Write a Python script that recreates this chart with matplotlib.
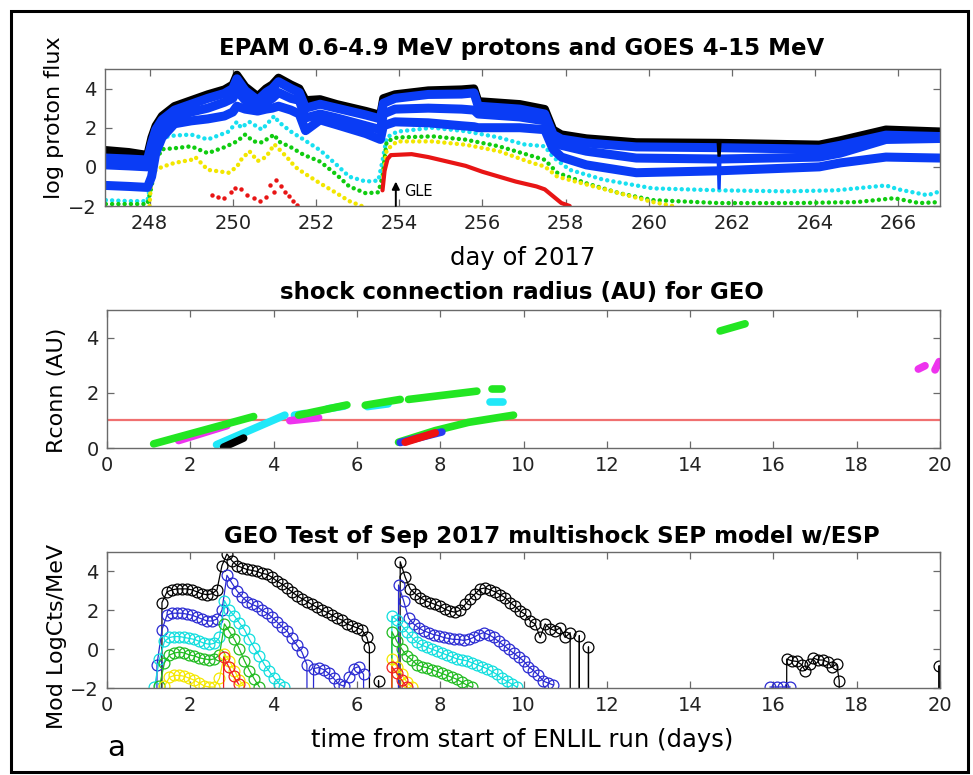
import numpy as np
import matplotlib
matplotlib.use("Agg")
import matplotlib.pyplot as plt
from matplotlib.patches import Rectangle

plt.rcParams['font.family'] = ['DejaVu Sans']

# ---------------- top panel: EPAM / GOES proton flux (log) ----------------
ep_days = [246.95, 247.5, 247.95, 248.05, 248.15, 248.3, 248.6, 249.0, 249.4, 249.8,
           250.0, 250.1, 250.3, 250.6, 250.8, 250.95, 251.1, 251.4, 251.6, 251.75,
           252.1, 252.5, 253.2, 253.55, 253.62, 253.9, 254.7, 255.5, 255.8, 255.9,
           256.9, 257.5, 257.7, 257.9, 258.5, 259.7, 261.7, 264.1, 264.6, 265.7, 267.0]
ep_black = [0.85, 0.75, 0.6, 1.5, 2.1, 2.6, 3.1, 3.4, 3.7, 3.95,
            4.2, 4.7, 4.1, 3.6, 4.0, 4.2, 4.55, 4.2, 4.0, 3.4,
            3.45, 3.2, 2.85, 2.65, 3.5, 3.7, 3.9, 3.95, 4.0, 3.35,
            3.2, 2.95, 1.9, 1.65, 1.45, 1.25, 1.22, 1.13, 1.35, 1.9, 1.8]
ep_blue1 = [0.45, 0.4, 0.35, 1.2, 1.9, 2.4, 2.9, 3.2, 3.5, 3.75,
            4.0, 4.5, 3.9, 3.4, 3.8, 4.0, 4.35, 4.0, 3.8, 3.0,
            3.2, 3.0, 2.65, 2.45, 3.25, 3.5, 3.7, 3.72, 3.78, 3.1,
            2.95, 2.7, 1.65, 1.42, 1.22, 1.02, 0.98, 0.9, 1.1, 1.62, 1.55]
ep_blue2 = [0.1, 0.05, 0.0, 0.8, 1.5, 2.0, 2.5, 2.8, 3.0, 3.3,
            3.5, 3.9, 3.4, 3.0, 3.3, 3.5, 3.8, 3.5, 3.4, 2.5,
            2.7, 2.5, 2.1, 1.9, 2.7, 2.95, 3.0, 2.95, 2.9, 2.7,
            2.55, 2.35, 1.3, 1.1, 0.8, 0.45, 0.4, 0.5, 0.7, 1.4, 1.45]
ep_blue3 = [-0.95, -1.0, -1.05, -0.5, 0.7, 1.5, 2.2, 2.35, 2.45, 2.6,
            2.8, 3.1, 2.95, 2.85, 2.95, 3.0, 3.1, 2.9, 2.7, 1.85,
            2.4, 2.15, 1.7, 1.4, 2.1, 2.3, 2.25, 2.1, 2.05, 2.0,
            2.0, 1.9, 0.9, 0.5, 0.1, -0.3, -0.2, 0.0, 0.2, 0.5, 0.45]

# data dropout near day 261.7
gap_days = [261.66, 261.68, 261.70, 261.72]
gap_black = [1.22, 0.55, 0.55, 1.22]
gap_blue = [0.45, -1.1, -1.1, 0.45]

cy_days = [246.95, 247.5, 247.95, 248.05, 248.15, 248.3, 248.6, 249.0, 249.4, 249.9,
           250.1, 250.2, 250.4, 250.7, 251.0, 251.1, 251.4, 251.7, 252.1, 252.5,
           252.8, 253.2, 253.5, 253.6, 253.7, 253.95, 254.8, 255.6, 256.4, 257.0,
           257.5, 257.7, 258.1, 258.9, 260.1, 261.7, 263.3, 264.5, 265.7, 266.0,
           266.7, 267.0]
cy_vals = [-1.7, -1.75, -1.75, -0.5, 0.8, 1.5, 1.6, 1.65, 1.4, 1.8,
           2.3, 2.0, 2.3, 1.9, 2.6, 2.3, 1.8, 1.4, 0.85, 0.1,
           -0.5, -0.75, -0.7, 0.3, 1.5, 1.8, 2.0, 1.82, 1.5, 1.15,
           1.05, 0.5, -0.15, -0.65, -1.1, -1.2, -1.25, -1.2, -0.95, -1.15,
           -1.45, -1.25]

gr_days = [246.95, 247.5, 247.95, 248.05, 248.15, 248.3, 248.6, 249.0, 249.4, 249.8,
           250.1, 250.3, 250.5, 250.7, 251.0, 251.1, 251.4, 251.7, 252.1, 252.5,
           252.8, 253.2, 253.5, 253.6, 253.7, 253.95, 254.8, 255.6, 256.4, 257.2,
           257.5, 257.8, 258.5, 259.3, 260.1, 261.7, 263.5, 265.0, 265.9, 266.5, 267.0]
gr_vals = [-1.9, -1.9, -1.9, -1.0, 0.3, 0.9, 0.95, 1.05, 0.7, 1.0,
           1.3, 1.65, 1.3, 1.25, 1.65, 1.3, 1.0, 0.62, 0.27, -0.41,
           -1.0, -1.35, -1.3, -0.5, 1.3, 1.5, 1.56, 1.39, 1.05, 0.55,
           0.36, -0.3, -0.84, -1.35, -1.7, -1.85, -1.85, -1.8, -1.6, -1.85, -1.8]

ye_days = [248.0, 248.05, 248.3, 248.6, 249.0, 249.1, 249.4, 249.9, 250.1, 250.2,
           250.4, 250.6, 250.8, 251.0, 251.3, 251.5, 251.7, 252.1, 252.5, 252.8,
           253.1, 253.4, 253.62, 253.7, 253.95, 254.8, 255.6, 256.4, 257.2, 257.5,
           257.8, 258.5, 259.3, 260.1, 260.7]
ye_vals = [-2.0, -0.3, 0.0, 0.2, 0.36, 0.5, -0.15, -0.3, 0.0, 0.36,
           0.8, 0.3, 0.5, 1.15, 0.5, 0.0, -0.3, -0.84, -1.35, -1.75,
           -2.0, np.nan, -0.5, 0.87, 1.3, 1.3, 1.13, 0.8, 0.2, 0.02,
           -0.5, -0.9, -1.35, -1.8, -2.05]

re_pre_days = [249.5, 249.65, 249.8, 249.95, 250.05, 250.2, 250.35, 250.5, 250.65,
               250.8, 250.9, 251.0, 251.05, 251.15, 251.25, 251.35, 251.45, 251.55]
re_pre_vals = [-1.45, -1.55, -1.6, -1.3, -1.1, -1.15, -1.45, -1.6, -1.75,
               -1.55, -0.95, -1.3, -0.65, -1.0, -1.3, -1.5, -1.75, -1.95]
re_post_days = [253.6, 253.65, 253.72, 253.8, 254.3, 254.7, 255.1, 255.6, 256.0,
                256.4, 256.8, 257.3, 257.5, 257.7, 257.9, 258.1]
re_post_vals = [-1.2, -0.2, 0.4, 0.6, 0.65, 0.5, 0.3, 0.05, -0.25,
                -0.5, -0.75, -1.0, -1.15, -1.5, -1.85, -2.0]

gle_day = 253.92

# ---------------- middle panel: shock connection radius ----------------
rc_green = [([1.12, 3.52], [0.15, 1.14]),
            ([4.6, 5.76], [1.19, 1.56]),
            ([6.2, 7.04], [1.55, 1.76]),
            ([7.24, 8.88], [1.76, 2.06]),
            ([9.24, 9.48], [2.12, 2.12]),
            ([7.0, 7.88, 8.68, 9.76], [0.21, 0.63, 0.93, 1.19]),
            ([14.72, 15.32], [4.24, 4.5])]
rc_magenta = [([1.72, 2.88], [0.27, 0.81]),
              ([4.39, 5.08], [0.99, 1.1]),
              ([19.48, 19.64], [2.86, 2.98]),
              ([19.88, 19.98], [2.83, 3.13])]
rc_cyan = [([2.63, 4.27], [0.12, 1.19]),
           ([4.5, 4.75], [1.19, 1.25]),
           ([5.3, 5.7], [1.42, 1.52]),
           ([6.25, 6.75], [1.5, 1.6]),
           ([9.2, 9.5], [1.66, 1.66])]
rc_black = [([2.8, 3.28], [0.03, 0.36])]
rc_blue = [([7.04, 8.04], [0.2, 0.58])]
rc_red = [([7.16, 7.88], [0.21, 0.55])]
r_ref = 1.0

# ---------------- bottom panel: model log counts ----------------
OFF = -60.0   # below the plotted range


def track(t0, vals, dt=0.12):
    return list(t0 + dt * np.arange(len(vals))), list(vals)


blk1 = [2.4, 2.95, 3.05, 3.1, 3.1, 3.1, 3.05, 2.95, 2.85, 2.8, 2.85, 3.05, 4.3, 4.9,
        4.55, 4.3, 4.2, 4.1, 4.05, 4.0, 3.9, 3.85, 3.7, 3.5, 3.35, 3.15, 2.95, 2.75,
        2.6, 2.45, 2.3, 2.15, 2.0, 1.9, 1.75, 1.6, 1.5, 1.3, 1.2, 1.1, 1.0, 0.6]
blk2 = [4.5, 3.7, 3.1, 2.85, 2.65, 2.5, 2.4, 2.3, 2.2, 2.05, 1.95, 1.9, 2.0, 2.3,
        2.6, 2.85, 3.1, 3.15, 3.05, 2.95, 2.8, 2.65, 2.4, 2.2, 1.95, 1.8, 1.45, 1.3,
        0.6, 1.3, 1.05, 0.95, 1.1, 0.6, 0.85]
blk3_t = [16.28, 16.32, 16.44, 16.56, 16.68, 16.76, 16.88, 16.96, 17.08, 17.2,
          17.32, 17.4, 17.52, 17.58, 17.62]
blk3_v = [OFF, -0.51, -0.6, -0.63, -0.8, -1.1, -0.77, -0.46, -0.56, -0.56,
          -0.68, -0.94, -0.77, -1.62, OFF]

blu1 = [-0.8, 1.0, 1.75, 1.85, 1.85, 1.85, 1.8, 1.75, 1.65, 1.55, 1.45, 1.45, 1.55,
        2.0, 3.8, 3.4, 3.0, 2.7, 2.45, 2.3, 2.2, 2.0, 1.85, 1.65, 1.4, 1.15, 0.95,
        0.55, 0.2, -0.15, -0.8]
blu1b = [-1.0, -0.95, -1.05, -1.25, -1.5, -1.8, -1.9, -1.45, -1.0, -0.9, -1.3]
blu2 = [3.3, 2.5, 1.6, 1.3, 1.1, 0.95, 0.85, 0.75, 0.7, 0.6, 0.55, 0.5, 0.5, 0.45,
        0.5, 0.6, 0.75, 0.85, 0.75, 0.6, 0.4, 0.2, 0.0, -0.2, -0.4, -0.6, -0.9,
        -1.1, -1.35, -1.65, -1.75, -1.85]
blu3_t = [15.92, 16.08, 16.24, 16.4]
blu3_v = [-1.95, -1.95, -1.95, -1.95]

cya1 = [-1.95, -0.5, 0.4, 0.6, 0.65, 0.65, 0.6, 0.55, 0.5, 0.4, 0.3, 0.25, 0.3, 0.6,
        2.5, 2.0, 1.7, 1.35, 1.0, 0.5, 0.05, -0.35, -0.8, -1.15, -1.5, -1.8, -1.95]
cya2 = [1.7, 1.5, 1.2, 0.9, 0.6, 0.35, 0.2, 0.1, 0.0, -0.1, -0.2, -0.3, -0.4, -0.5,
        -0.55, -0.6, -0.7, -0.8, -0.9, -1.0, -1.15, -1.3, -1.5, -1.65, -1.8, -1.95]

grn1 = [-1.9, -0.7, -0.3, -0.2, -0.15, -0.2, -0.3, -0.35, -0.45, -0.5, -0.55, -0.5,
        -0.3, 1.3, 0.9, 0.5, 0.0, -0.6, -1.1, -1.55, -1.95]
grn2 = [0.9, 0.4, 0.0, -0.35, -0.55, -0.8, -0.9, -0.95, -1.05, -1.15, -1.25, -1.35,
        -1.45, -1.55, -1.7, -1.85, -1.95]

yel1 = [-1.9, -1.45, -1.35, -1.35, -1.4, -1.5, -1.6, -1.75, -1.9, -1.95, -1.95,
        -1.5, -0.25, -0.6, -1.1, -1.6, -1.95]
yel2 = [-0.5, -0.9, -1.3, -1.7, -1.95]

red1 = [-0.4, -0.9, -1.4, -1.8]
red2 = [-0.9, -1.25, -1.6, -1.95]


def join(*parts):
    t, v = [], []
    for i, (pt, pv) in enumerate(parts):
        if i:
            t.append(np.nan)
            v.append(np.nan)
        t += list(pt)
        v += list(pv)
    return np.array(t, float), np.array(v, float)


b1t, b1v = track(1.32, blk1)
b2t, b2v = track(7.04, blk2)
mod_black = join(
    ([1.28] + b1t + [6.30, 6.33, 6.52, 6.55], [OFF] + b1v + [0.1, OFF, -1.62, OFF]),
    ([6.98] + b2t + [11.16, 11.30, 11.34, 11.38, 11.52, 11.56, 11.60],
     [OFF] + b2v + [OFF, OFF, 0.7, OFF, OFF, 0.12, OFF]),
    (blk3_t, blk3_v),
    ([19.96, 19.98, 20.02], [OFF, -0.85, OFF]))

u1t, u1v = track(1.2, blu1)
u1bt, u1bv = track(4.96, blu1b)
u2t, u2v = track(7.0, blu2)
mod_blue = join(
    ([1.17] + u1t + [4.86] + u1bt + [6.2], [OFF] + u1v + [OFF] + u1bv + [OFF]),
    ([6.97] + u2t, [OFF] + u2v),
    (blu3_t, blu3_v))

c1t, c1v = track(1.14, cya1)
c2t, c2v = track(6.84, cya2)
mod_cyan = join((c1t, c1v), ([6.80] + c2t, [OFF] + c2v))

g1t, g1v = track(1.26, grn1)
g2t, g2v = track(6.84, grn2)
mod_green = join(([1.22] + g1t, [OFF] + g1v), ([6.80] + g2t, [OFF] + g2v))

y1t, y1v = track(1.38, yel1)
y2t, y2v = track(6.84, yel2)
mod_yellow = join(([1.34] + y1t, [OFF] + y1v), ([6.80] + y2t, [OFF] + y2v))

r1t, r1v = track(2.80, red1)
r2t, r2v = track(6.84, red2)
mod_red = join(([2.76] + r1t, [OFF] + r1v), ([6.80] + r2t, [OFF] + r2v))

# ---------------- figure ----------------
W, H = 973, 775
fig = plt.figure(figsize=(W / 100, H / 100), dpi=100)


def px_axes(x0, y0, x1, y1):
    return fig.add_axes([x0 / W, 1 - y1 / H, (x1 - x0) / W, (y1 - y0) / H])


def ftext(x, y, s, **kw):
    fig.text(x / W, 1 - y / H, s, **kw)


SPINE = '#6a6a6a'
TICKFS = 14


def style(ax):
    for sp in ax.spines.values():
        sp.set_color(SPINE)
        sp.set_linewidth(1.0)
    ax.tick_params(direction='in', top=True, right=True, length=5, width=0.9,
                   color=SPINE, labelsize=TICKFS, labelcolor='#222222', pad=6)


ax1 = px_axes(105, 69, 940, 206)
ax2 = px_axes(107, 310, 940, 448)
ax3 = px_axes(107, 552, 940, 688)

# top panel
BLUE = '#0a3cf5'
dots = dict(linestyle=(0, (0.01, 1.4)), dash_capstyle='round', lw=3.2)
ax1.plot(cy_days, cy_vals, color='#18e0f0', **dots)
ax1.plot(gr_days, gr_vals, color='#10cc10', **dots)
ax1.plot(ye_days, ye_vals, color='#f2e600', **dots)
ax1.plot(re_pre_days, re_pre_vals, 'o', color='#e81515', ms=3.2, mew=0)
ax1.plot(re_post_days, re_post_vals, color='#e81515', lw=3, solid_capstyle='round')
ax1.plot(ep_days, ep_black, color='black', lw=6, solid_joinstyle='round')
for vals in (ep_blue1, ep_blue2, ep_blue3):
    ax1.plot(ep_days, vals, color=BLUE, lw=6.5, solid_joinstyle='round')
ax1.plot(gap_days, gap_black, color='black', lw=1.8)
ax1.plot(gap_days, gap_blue, color=BLUE, lw=1.8)
ax1.annotate('', xy=(gle_day, -0.75), xytext=(gle_day, -2.0),
             arrowprops=dict(arrowstyle='-|>', color='black', lw=1.4,
                             mutation_scale=11, shrinkA=0, shrinkB=0))
ax1.text(gle_day + 0.2, -1.28, 'GLE', fontsize=10.5, va='center', ha='left')
ax1.set_xlim(246.93, 267.0)
ax1.set_ylim(-2, 5)
ax1.set_xticks(np.arange(248, 267, 2))
ax1.set_yticks([-2, 0, 2, 4])
style(ax1)

# middle panel
seg_kw = dict(lw=5.5, solid_capstyle='round')
ax2.axhline(r_ref, color='#f07070', lw=1.6, zorder=1)
for segs, col in ((rc_cyan, '#20e8f8'), (rc_magenta, '#ee33ee'),
                  (rc_green, '#22e622'), (rc_black, 'black'),
                  (rc_blue, '#2a3cf0'), (rc_red, '#ee1111')):
    for xs, ys in segs:
        ax2.plot(xs, ys, color=col, **seg_kw)
ax2.set_xlim(0, 20)
ax2.set_ylim(0, 5)
ax2.set_xticks(np.arange(0, 21, 2))
ax2.set_yticks([0, 2, 4])
style(ax2)

# bottom panel
mk = dict(marker='o', mfc='none', ms=7.8, mew=0.9, lw=0.9)
for (tt, vv), col in ((mod_black, 'black'), (mod_blue, '#2a2ad2'),
                      (mod_cyan, '#10dede'), (mod_green, '#20bb20'),
                      (mod_yellow, '#f5e800'), (mod_red, '#f02020')):
    ax3.plot(tt, vv, color=col, **mk)
ax3.set_xlim(0, 20)
ax3.set_ylim(-2, 5)
ax3.set_xticks(np.arange(0, 21, 2))
ax3.set_yticks([-2, 0, 2, 4])
style(ax3)

# titles and labels
TFS = 16.5
ftext(522, 48, 'EPAM 0.6-4.9 MeV protons and GOES 4-15 MeV', fontsize=TFS,
      fontweight='bold', ha='center', va='center')
ftext(522, 293, 'shock connection radius (AU) for GEO', fontsize=TFS,
      fontweight='bold', ha='center', va='center')
ftext(552, 537, 'GEO Test of Sep 2017 multishock SEP model w/ESP', fontsize=TFS,
      fontweight='bold', ha='center', va='center')

XLFS = 17.5
YLFS = 16
ftext(523, 258, 'day of 2017', fontsize=XLFS, ha='center', va='center')
ftext(522, 740, 'time from start of ENLIL run (days)', fontsize=XLFS,
      ha='center', va='center')
ftext(54, 118, 'log proton flux', fontsize=YLFS, rotation=90, ha='center', va='center')
ftext(57, 390, 'Rconn (AU)', fontsize=YLFS, rotation=90, ha='center', va='center')
ftext(57, 636, 'Mod LogCts/MeV', fontsize=YLFS, rotation=90, ha='center', va='center')
ftext(116, 748, 'a', fontsize=21, ha='center', va='center')

# outer frame
fig.patches.append(Rectangle((11 / W, 1 - 772 / H), (968 - 11) / W, (772 - 11) / H,
                             transform=fig.transFigure, fill=False, lw=2.2,
                             ec='black'))

fig.savefig('out.png', dpi=100)
